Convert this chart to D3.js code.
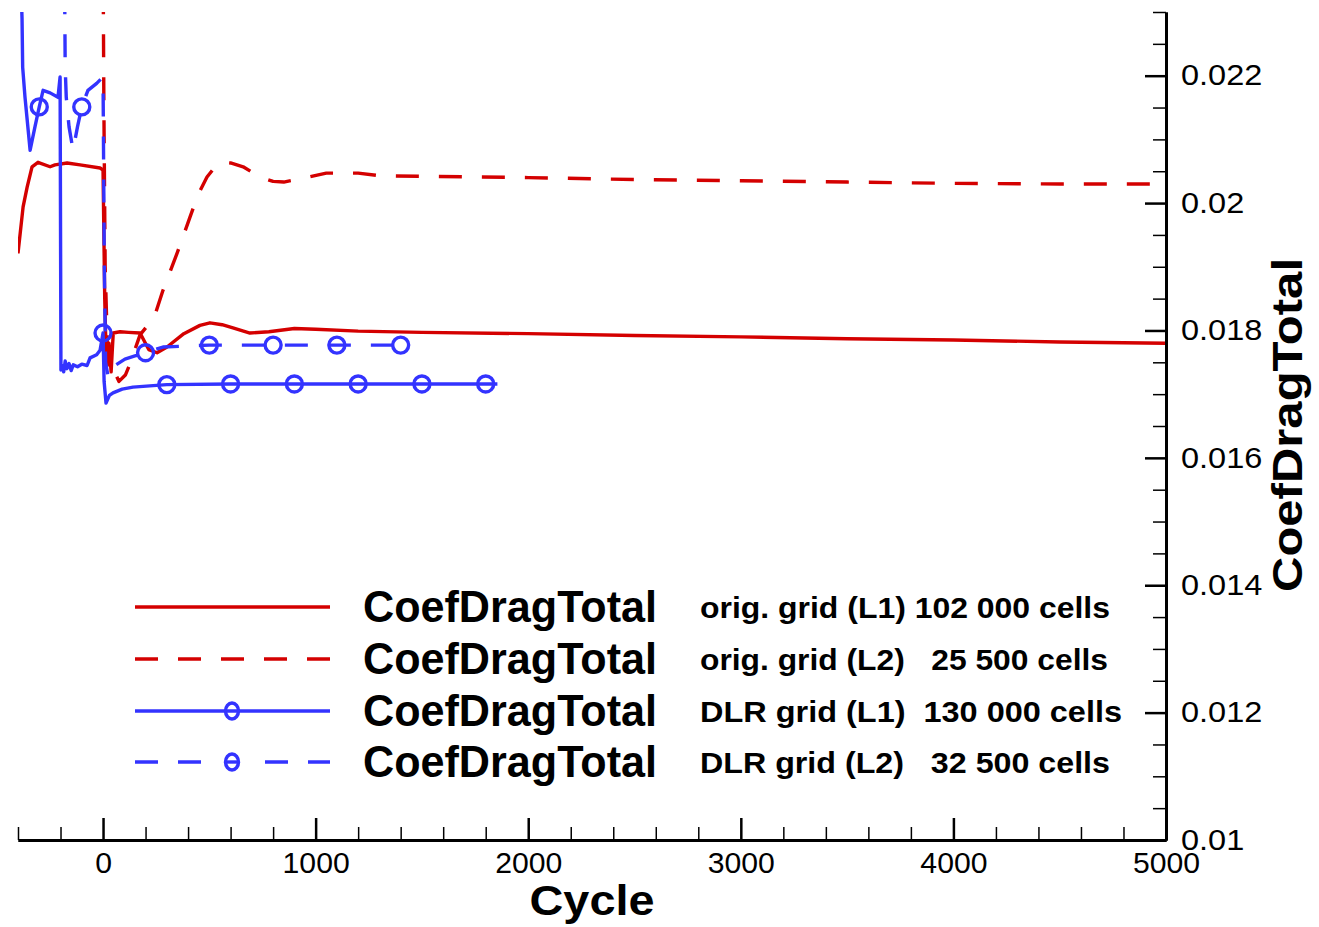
<!DOCTYPE html>
<html>
<head>
<meta charset="utf-8">
<script src="https://cdn.jsdelivr.net/npm/d3@7"></script>
<style>
  html, body { margin: 0; padding: 0; background: #ffffff; }
  svg { display: block; }
  text { font-family: "Liberation Sans", Arial, Helvetica, sans-serif; fill: #000; }
</style>
</head>
<body>
<svg id="chart" width="1319" height="927"></svg>
<script>
// Drag coefficient convergence history, [cycle, CoefDragTotal]
const origL1 = [
  [-400, 0.01921], [-376, 0.01994], [-357, 0.02025], [-334, 0.02057], [-306, 0.02064],
  [-249, 0.02057], [-226, 0.02060], [-169, 0.02063], [-108, 0.02060], [-14, 0.02055],
  [0, 0.02052], [8, 0.01850], [12, 0.01796], [20, 0.01745], [28, 0.01780], [38, 0.01735],
  [48, 0.01796], [80, 0.01798], [120, 0.01797], [174, 0.01796], [215, 0.01770],
  [254, 0.01765], [301, 0.01774], [380, 0.01795], [456, 0.01808], [503, 0.01812],
  [560, 0.01809], [611, 0.01804], [691, 0.01796], [780, 0.01798], [900, 0.01803],
  [1000, 0.01802], [1200, 0.01799], [1500, 0.01797], [2000, 0.01795], [2500, 0.01792],
  [3000, 0.01790], [3500, 0.01787], [4000, 0.01785], [4500, 0.01782], [5000, 0.01780]
];
const origL2 = [
  [0, 0.02400], [4, 0.02150], [10, 0.01900], [20, 0.01780], [40, 0.01745], [75, 0.01720],
  [105, 0.01730], [130, 0.01750], [150, 0.01770], [174, 0.01793], [210, 0.01808],
  [240, 0.01820], [282, 0.01863], [306, 0.01884], [348, 0.01921], [376, 0.01947], [409, 0.01978],
  [447, 0.02013], [489, 0.02041], [525, 0.02056], [560, 0.02064], [600, 0.02063],
  [659, 0.02057], [738, 0.02041], [800, 0.02034], [850, 0.02033], [940, 0.02039],
  [1050, 0.02047], [1200, 0.02047], [1300, 0.02043], [1500, 0.02042], [2000, 0.02040],
  [2500, 0.02037], [3000, 0.02035], [3500, 0.02033], [4000, 0.02031], [4500, 0.02030],
  [5000, 0.02030]
];
const dlrL1 = [
  [-392, 0.02400], [-381, 0.02290], [-378, 0.02213], [-367, 0.02166], [-343, 0.02083],
  [-320, 0.02120], [-300, 0.02151], [-282, 0.02177], [-249, 0.02173], [-212, 0.02166],
  [-202, 0.02198], [-198, 0.01738], [-190, 0.01745], [-185, 0.01735], [-178, 0.01752],
  [-170, 0.01740], [-160, 0.01748], [-150, 0.01737], [-140, 0.01746], [-120, 0.01743],
  [-100, 0.01747], [-75, 0.01745], [-61, 0.01757], [-30, 0.01762], [-14, 0.01769],
  [0, 0.01796], [5, 0.01720], [14, 0.01686], [30, 0.01698], [47, 0.01702], [90, 0.01708],
  [141, 0.01711], [220, 0.01713], [300, 0.01715], [600, 0.01716], [900, 0.01716],
  [1200, 0.01716], [1500, 0.01716], [1800, 0.01716], [1855, 0.01716]
];
const dlrL2 = [
  [-182, 0.02400], [-178, 0.02213], [-173, 0.02166], [-160, 0.02120], [-141, 0.02083],
  [-120, 0.02120], [-100, 0.02151], [-71, 0.02177], [-30, 0.02188], [0, 0.02198],
  [6, 0.01900], [12, 0.01750], [25, 0.01725], [56, 0.01745], [103, 0.01755], [150, 0.01760],
  [200, 0.01765], [282, 0.01774], [500, 0.01777], [800, 0.01777], [1100, 0.01777],
  [1400, 0.01777], [1410, 0.01777]
];
// cycles carrying a symbol
const dlrL1Marks = [-300, 0, 300, 600, 900, 1200, 1500, 1800];
const dlrL2Marks = [-100, 200, 500, 800, 1100, 1400];

const cycleTicks = [0, 1000, 2000, 3000, 4000, 5000];
const cycleTickLabels = ["0", "1000", "2000", "3000", "4000", "5000"];
const dragTicks = [0.010, 0.012, 0.014, 0.016, 0.018, 0.020, 0.022];
const dragTickLabels = ["0.01", "0.012", "0.014", "0.016", "0.018", "0.02", "0.022"];

const legendNames = ["CoefDragTotal", "CoefDragTotal", "CoefDragTotal", "CoefDragTotal"];
const legendGrids = [
  "orig. grid (L1) 102 000 cells",
  "orig. grid (L2)   25 500 cells",
  "DLR grid (L1)  130 000 cells",
  "DLR grid (L2)   32 500 cells"
];

const RED = "#d40000", BLUE = "#3333ff";
const DASH = "23,20";
const LW = 3.4;

const svg = d3.select("#chart");
const plotLeft = 18, plotRight = 1166, plotTop = 12, plotBottom = 840;

const x = d3.scaleLinear().domain([-400, 5000]).range([plotLeft, plotRight]);
const y = d3.scaleLinear().domain([0.010, 0.023]).range([plotBottom, plotTop]);

svg.append("defs").append("clipPath").attr("id", "plotclip")
  .append("rect").attr("x", plotLeft).attr("y", plotTop)
  .attr("width", plotRight - plotLeft).attr("height", plotBottom - plotTop);

const series = [
  { data: origL1, color: RED, dash: null, marks: null },
  { data: origL2, color: RED, dash: DASH, marks: null },
  { data: dlrL1, color: BLUE, dash: null, marks: dlrL1Marks },
  { data: dlrL2, color: BLUE, dash: DASH, marks: dlrL2Marks }
];

const line = d3.line().x(d => x(d[0])).y(d => y(d[1]));
const plot = svg.append("g").attr("clip-path", "url(#plotclip)");

series.forEach(s => {
  plot.append("path").datum(s.data)
    .attr("d", line)
    .attr("fill", "none")
    .attr("stroke", s.color)
    .attr("stroke-width", LW)
    .attr("stroke-linejoin", "round")
    .attr("stroke-dasharray", s.dash);
  if (s.marks) {
    const pts = s.data.filter(d => s.marks.includes(d[0]));
    plot.selectAll(null).data(pts).enter().append("circle")
      .attr("cx", d => x(d[0])).attr("cy", d => y(d[1]))
      .attr("r", 8).attr("fill", "none")
      .attr("stroke", s.color).attr("stroke-width", LW);
  }
});

// Axes: bottom (Cycle) and right (CoefDragTotal), majors plus minors
const xMinor = d3.range(-400, 5001, 200).filter(v => v % 1000 !== 0);
const yMinor = d3.range(0, 27).map(i => 0.010 + i * 0.0005)
  .filter(v => Math.abs(Math.round(v * 500) - v * 500) > 1e-6);

const gx = svg.append("g").attr("transform", `translate(0,${plotBottom})`);
gx.append("g").call(d3.axisBottom(x).tickValues(xMinor).tickSizeInner(-13).tickSizeOuter(0).tickFormat(""))
  .call(g => g.selectAll(".tick line").attr("stroke-width", 1.5));
gx.append("g").call(d3.axisBottom(x).tickValues(cycleTicks).tickSizeInner(-22).tickSizeOuter(0)
    .tickPadding(12).tickFormat((d, i) => cycleTickLabels[i]))
  .call(g => g.selectAll(".tick line").attr("stroke-width", 2.5))
  .call(g => g.selectAll("text").attr("font-size", 29).attr("font-family", "Liberation Sans"));

const gy = svg.append("g").attr("transform", `translate(${plotRight},0)`);
gy.append("g").call(d3.axisRight(y).tickValues(yMinor).tickSizeInner(-13).tickSizeOuter(0).tickFormat(""))
  .call(g => g.selectAll(".tick line").attr("stroke-width", 1.5));
gy.append("g").call(d3.axisRight(y).tickValues(dragTicks).tickSizeInner(-21).tickSizeOuter(0)
    .tickPadding(15).tickFormat((d, i) => dragTickLabels[i]))
  .call(g => g.selectAll(".tick line").attr("stroke-width", 2.5))
  .call(g => g.selectAll("text").attr("font-size", 29).attr("font-family", "Liberation Sans"));

svg.selectAll(".domain").attr("stroke-width", 3).attr("stroke", "#000");

// tick labels are set a little narrower / wider than the plain face
gx.selectAll("text").each(function () {
  const w = this.getComputedTextLength();
  if (w > 0) d3.select(this).attr("textLength", w * 1.04).attr("lengthAdjust", "spacingAndGlyphs");
});
gy.selectAll("text").each(function () {
  const w = this.getComputedTextLength();
  if (w > 0) d3.select(this).attr("textLength", w * 1.12).attr("lengthAdjust", "spacingAndGlyphs");
});

// Axis titles
svg.append("text").text("Cycle")
  .attr("x", 592).attr("y", 915).attr("text-anchor", "middle")
  .attr("font-size", 43).attr("font-weight", "bold")
  .attr("textLength", 125).attr("lengthAdjust", "spacingAndGlyphs");
svg.append("text").text("CoefDragTotal")
  .attr("transform", "translate(1302,425) rotate(-90)")
  .attr("text-anchor", "middle")
  .attr("font-size", 43).attr("font-weight", "bold")
  .attr("textLength", 334).attr("lengthAdjust", "spacingAndGlyphs");

// Legend
const rowY = [607, 659, 711, 762];
const gridWidths = [410, 408, 422, 410];
const leg = svg.append("g");
series.forEach((s, i) => {
  const yy = rowY[i];
  if (s.marks && s.dash) {
    [[135, 205], [265, 330]].forEach(([a, b]) => {
      leg.append("line").attr("x1", a).attr("x2", b).attr("y1", yy).attr("y2", yy)
        .attr("stroke", s.color).attr("stroke-width", LW).attr("stroke-dasharray", DASH);
    });
    leg.append("line").attr("x1", 226).attr("x2", 238).attr("y1", yy).attr("y2", yy)
      .attr("stroke", s.color).attr("stroke-width", LW);
  } else {
    leg.append("line").attr("x1", 135).attr("x2", 330).attr("y1", yy).attr("y2", yy)
      .attr("stroke", s.color).attr("stroke-width", LW).attr("stroke-dasharray", s.dash);
  }
  if (s.marks) {
    leg.append("ellipse").attr("cx", 232).attr("cy", yy).attr("rx", 6.5).attr("ry", 8)
      .attr("fill", "none").attr("stroke", s.color).attr("stroke-width", LW);
  }
  leg.append("text").text(legendNames[i])
    .attr("x", 363).attr("y", yy + 15)
    .attr("font-size", 44).attr("font-weight", "bold")
    .attr("textLength", 294).attr("lengthAdjust", "spacingAndGlyphs");
  leg.append("text").text(legendGrids[i])
    .attr("x", 700).attr("y", yy + 11)
    .style("white-space", "pre")
    .attr("font-size", 29).attr("font-weight", "bold")
    .attr("textLength", gridWidths[i]).attr("lengthAdjust", "spacingAndGlyphs");
});
</script>
</body>
</html>
